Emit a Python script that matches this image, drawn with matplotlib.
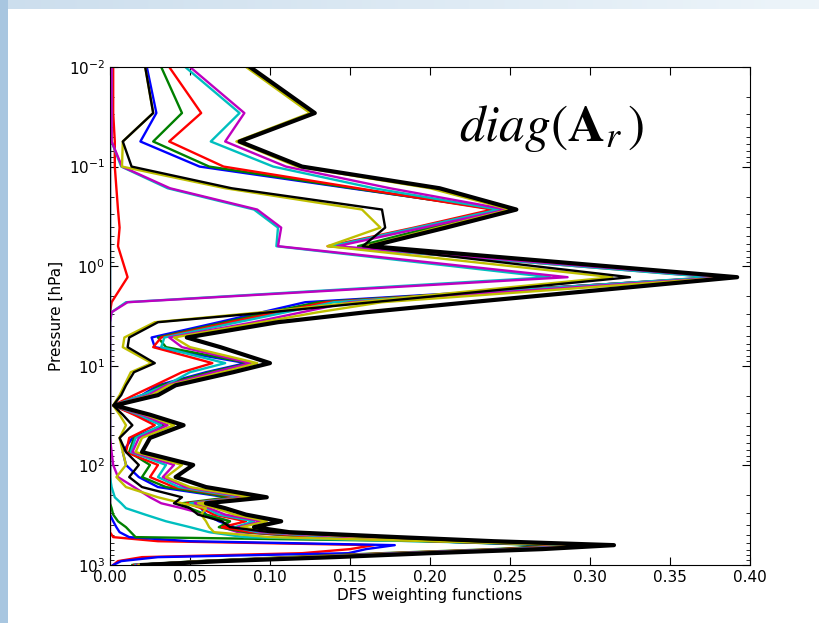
import matplotlib.pyplot as plt
import numpy as np

plt.rcParams["mathtext.fontset"] = "stix"

# pressure levels [hPa]
pressure = [0.01, 0.029, 0.056, 0.1, 0.165, 0.27, 0.41, 0.63, 1.29, 2.3,
            2.9, 3.65, 5.2, 6.5, 9.4, 11.6, 15.7, 19.7, 25, 31,
            39.5, 53, 73.5, 99, 131, 165, 209, 240, 269, 312,
            364, 417, 468, 525, 577, 632, 693, 761, 834, 914, 1000]

# DFS weighting functions, one profile per case
blue_a = [0.023, 0.029, 0.019, 0.056, 0.150, 0.245, 0.203, 0.160, 0.383,
          0.122, 0.095, 0.068, 0.026, 0.028, 0.085, 0.060, 0.030, 0.020, 0.002, 0.016,
          0.033, 0.014, 0.008, 0.010, 0.018, 0.030, 0.073, 0.060, 0.057, 0.060,
          0.068, 0.078, 0.090, 0.150, 0.200, 0.280, 0.250, 0.180, 0.120, 0.060, 0.015]
green_a = [0.032, 0.045, 0.027, 0.062, 0.152, 0.242, 0.200, 0.155, 0.381,
           0.130, 0.100, 0.072, 0.030, 0.035, 0.087, 0.062, 0.032, 0.021, 0.002, 0.017,
           0.035, 0.015, 0.012, 0.025, 0.020, 0.035, 0.075, 0.045, 0.050, 0.060,
           0.075, 0.068, 0.085, 0.125, 0.200, 0.285, 0.240, 0.170, 0.110, 0.055, 0.015]
red_a = [0.037, 0.057, 0.037, 0.071, 0.155, 0.239, 0.190, 0.136, 0.378,
         0.135, 0.105, 0.075, 0.032, 0.027, 0.064, 0.045, 0.028, 0.015, 0.002, 0.015,
         0.028, 0.012, 0.010, 0.030, 0.025, 0.040, 0.080, 0.048, 0.057, 0.065,
         0.085, 0.070, 0.088, 0.130, 0.205, 0.290, 0.245, 0.175, 0.115, 0.058, 0.015]
cyan_a = [0.047, 0.081, 0.063, 0.102, 0.165, 0.243, 0.192, 0.138, 0.376,
          0.140, 0.110, 0.080, 0.034, 0.032, 0.072, 0.050, 0.035, 0.020, 0.002, 0.018,
          0.032, 0.016, 0.013, 0.035, 0.030, 0.043, 0.082, 0.050, 0.060, 0.068,
          0.090, 0.078, 0.092, 0.140, 0.210, 0.295, 0.250, 0.180, 0.120, 0.060, 0.016]
magenta_a = [0.050, 0.084, 0.072, 0.110, 0.175, 0.248, 0.196, 0.142, 0.385,
             0.150, 0.120, 0.090, 0.037, 0.045, 0.088, 0.065, 0.035, 0.024, 0.002, 0.020,
             0.036, 0.018, 0.014, 0.040, 0.033, 0.047, 0.085, 0.053, 0.062, 0.072,
             0.095, 0.080, 0.095, 0.150, 0.220, 0.300, 0.255, 0.185, 0.125, 0.062, 0.017]
yellow_a = [0.085, 0.125, 0.079, 0.117, 0.200, 0.250, 0.205, 0.160, 0.388,
            0.170, 0.130, 0.095, 0.040, 0.050, 0.092, 0.070, 0.037, 0.026, 0.002, 0.022,
            0.040, 0.020, 0.016, 0.045, 0.035, 0.050, 0.088, 0.055, 0.066, 0.078,
            0.098, 0.082, 0.100, 0.160, 0.230, 0.305, 0.260, 0.190, 0.130, 0.065, 0.018]
black_a = [0.0875, 0.128, 0.081, 0.120, 0.206, 0.254, 0.210, 0.163, 0.392,
           0.225, 0.160, 0.105, 0.048, 0.069, 0.100, 0.077, 0.041, 0.030, 0.003, 0.025,
           0.046, 0.025, 0.020, 0.052, 0.041, 0.060, 0.098, 0.060, 0.072, 0.085,
           0.107, 0.090, 0.112, 0.180, 0.240, 0.315, 0.270, 0.200, 0.140, 0.070, 0.020]

blue_b = [0.0, 0.0, 0.0, 0.0, 0.0, 0.0, 0.0, 0.0, 0.0,
          0.0, 0.0, 0.0, 0.0, 0.0, 0.0, 0.0, 0.0, 0.0, 0.0, 0.0,
          0.0, 0.0, 0.0, 0.0, 0.0, 0.0, 0.0, 0.0, 0.0, 0.0,
          0.002, 0.004, 0.006, 0.012, 0.050, 0.178, 0.160, 0.149, 0.030, 0.007, 0.002]
green_b = [0.0, 0.0, 0.0, 0.0, 0.0, 0.0, 0.0, 0.0, 0.0,
           0.0, 0.0, 0.0, 0.0, 0.0, 0.0, 0.0, 0.0, 0.0, 0.0, 0.0,
           0.0, 0.0, 0.0, 0.0, 0.0, 0.0, 0.0, 0.0, 0.001, 0.002,
           0.005, 0.010, 0.013, 0.016, 0.200, 0.270, 0.250, 0.200, 0.120, 0.060, 0.014]
red_b = [0.002, 0.002, 0.003, 0.003, 0.004, 0.005, 0.006, 0.005, 0.011,
         0.001, 0.0, 0.0, 0.0, 0.0, 0.0, 0.0, 0.0, 0.0, 0.0, 0.0,
         0.0, 0.0, 0.0, 0.0, 0.0, 0.0, 0.0, 0.0, 0.0, 0.0,
         0.0, 0.0, 0.0, 0.002, 0.030, 0.165, 0.150, 0.120, 0.020, 0.005, 0.002]
cyan_b = [0.001, 0.001, 0.001, 0.007, 0.036, 0.090, 0.105, 0.104, 0.275,
          0.010, 0.001, 0.0, 0.0, 0.0, 0.0, 0.0, 0.0, 0.0, 0.0, 0.0,
          0.0, 0.0, 0.0, 0.0, 0.0, 0.001, 0.003, 0.007, 0.010, 0.022,
          0.035, 0.050, 0.062, 0.084, 0.190, 0.290, 0.260, 0.190, 0.120, 0.060, 0.016]
magenta_b = [0.001, 0.001, 0.001, 0.0075, 0.0375, 0.092, 0.107, 0.105, 0.286,
             0.011, 0.001, 0.0, 0.0, 0.0, 0.0, 0.0, 0.0, 0.0, 0.0, 0.0,
             0.0, 0.0, 0.001, 0.002, 0.005, 0.015, 0.025, 0.032, 0.045, 0.060,
             0.075, 0.070, 0.080, 0.130, 0.220, 0.300, 0.270, 0.200, 0.120, 0.060, 0.020]
yellow_b = [0.022, 0.027, 0.008, 0.0075, 0.072, 0.1575, 0.169, 0.136, 0.314,
            0.155, 0.095, 0.028, 0.009, 0.008, 0.026, 0.013, 0.009, 0.006, 0.002, 0.006,
            0.010, 0.006, 0.008, 0.010, 0.004, 0.010, 0.030, 0.045, 0.060, 0.057,
            0.060, 0.062, 0.065, 0.100, 0.200, 0.300, 0.270, 0.200, 0.120, 0.060, 0.018]
black_b = [0.022, 0.027, 0.008, 0.0135, 0.076, 0.170, 0.172, 0.158, 0.325,
           0.164, 0.100, 0.030, 0.012, 0.011, 0.028, 0.015, 0.010, 0.007, 0.002, 0.008,
           0.014, 0.006, 0.010, 0.018, 0.012, 0.020, 0.045, 0.040, 0.050, 0.055,
           0.070, 0.075, 0.100, 0.170, 0.230, 0.310, 0.265, 0.195, 0.135, 0.068, 0.020]

# drawing order: weakest profiles first, bold black envelope last
profiles = [
    (red_b, "r", 1.7), (blue_b, "b", 1.7), (green_b, "g", 1.7),
    (cyan_b, "c", 1.7), (magenta_b, "m", 1.7),
    (blue_a, "b", 1.7), (green_a, "g", 1.7), (red_a, "r", 1.7),
    (cyan_a, "c", 1.7), (magenta_a, "m", 1.7), (yellow_a, "y", 1.7),
    (yellow_b, "y", 1.7), (black_b, "k", 1.7), (black_a, "k", 3.0),
]

fig = plt.figure(figsize=(8.19, 6.23), dpi=100)

# slide background: bluish band along the left and top edges
bg = fig.add_axes([0, 0, 1, 1], zorder=-10)
w, h = 819, 623
img = np.ones((h, w, 3))
left = np.array([0.66, 0.78, 0.88])
top = np.array([0.80, 0.87, 0.93])
img[:, :8] = left
fade = np.linspace(0, 1, w)[:, None]
img[:9, :] = top * (1 - fade) + np.array([0.93, 0.96, 0.98]) * fade
img[:9, :8] = left
bg.imshow(img, aspect="auto", extent=[0, 1, 0, 1])
bg.axis("off")

ax = fig.add_axes([0.1343, 0.0931, 0.7814, 0.7994])
for vals, col, lw in profiles:
    ax.plot(vals, pressure, color=col, lw=lw)

ax.set_yscale("log")
ax.set_ylim(1000, 0.01)
ax.set_xlim(0.0, 0.40)
ax.set_xticks(np.arange(0, 0.41, 0.05))
ax.set_xticklabels([f"{t:.2f}" for t in np.arange(0, 0.41, 0.05)])
ax.tick_params(which="both", direction="in", top=True, right=True, labelsize=11)
ax.tick_params(which="major", length=6)
ax.tick_params(which="minor", length=3)
ax.set_xlabel("DFS weighting functions", fontsize=11, labelpad=2)
ax.set_ylabel("Pressure [hPa]", fontsize=11)
ax.text(0.69, 0.877, r"$diag(\mathbf{A}_r\,)$", transform=ax.transAxes,
        fontsize=37, ha="center", va="center")

fig.savefig("out.png", dpi=100)
